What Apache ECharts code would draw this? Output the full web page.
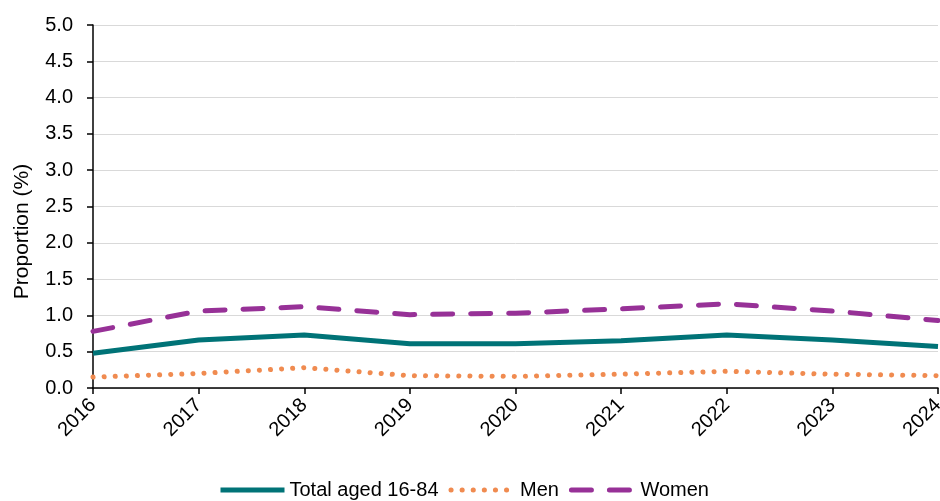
<!DOCTYPE html>
<html>
<head>
<meta charset="utf-8">
<script src="https://cdn.jsdelivr.net/npm/echarts@6/dist/echarts.min.js"></script>
<style>
  html, body { margin: 0; padding: 0; background: #fff; }
  #chart { width: 940px; height: 501px; }
</style>
</head>
<body>
<div id="chart"></div>
<script>
const years = ['2016', '2017', '2018', '2019', '2020', '2021', '2022', '2023', '2024']
const total = [0.48, 0.66, 0.73, 0.61, 0.61, 0.65, 0.73, 0.66, 0.57]
const men = [0.15, 0.20, 0.28, 0.17, 0.16, 0.19, 0.23, 0.19, 0.17]
const women = [0.78, 1.06, 1.12, 1.01, 1.03, 1.09, 1.16, 1.06, 0.93]

const font = 'Liberation Sans, Arial, sans-serif'

const chart = echarts.init(document.getElementById('chart'))
chart.setOption({
  animation: false,
  grid: { left: 93, right: 2, top: 25, bottom: 113, outerBoundsMode: 'none' },
  legend: {
    top: 475,
    left: 213,
    itemWidth: 64,
    itemHeight: 10,
    itemGap: 10,
    textStyle: { fontFamily: font, fontSize: 20, color: '#000' },
    itemStyle: { opacity: 0 },
    lineStyle: { width: 5 },
    data: ['Total aged 16-84', 'Men', 'Women']
  },
  xAxis: {
    type: 'category',
    data: years,
    boundaryGap: false,
    axisLine: { lineStyle: { color: '#000', width: 1.5 } },
    axisTick: { alignWithLabel: true, length: 6, lineStyle: { color: '#000', width: 1.5 } },
    axisLabel: { rotate: 45, fontFamily: font, fontSize: 20, color: '#000', margin: 14 }
  },
  yAxis: {
    type: 'value',
    min: 0,
    max: 5,
    interval: 0.5,
    name: 'Proportion (%)',
    nameLocation: 'middle',
    nameGap: 60,
    nameTextStyle: { fontFamily: font, fontSize: 21, color: '#000', padding: [0, 50, 0, 0] },
    axisLine: { show: true, lineStyle: { color: '#000', width: 1.5 } },
    axisTick: { show: true, length: 6, lineStyle: { color: '#000', width: 1.5 } },
    axisLabel: {
      fontFamily: font, fontSize: 20, color: '#000', margin: 20,
      formatter: v => v.toFixed(1)
    },
    splitLine: { lineStyle: { color: '#d9d9d9', width: 1 } }
  },
  series: [
    {
      name: 'Total aged 16-84',
      type: 'line',
      data: total,
      symbol: 'none',
      itemStyle: { color: '#007377' },
      lineStyle: { color: '#007377', width: 5 }
    },
    {
      name: 'Men',
      type: 'line',
      data: men,
      symbol: 'none',
      itemStyle: { color: '#F08B50' },
      lineStyle: { color: '#F08B50', width: 5, type: [0.1, 11], cap: 'round' }
    },
    {
      name: 'Women',
      type: 'line',
      data: women,
      symbol: 'none',
      itemStyle: { color: '#973197' },
      lineStyle: { color: '#973197', width: 5, type: [20, 18], cap: 'round' }
    }
  ]
})
</script>
</body>
</html>
